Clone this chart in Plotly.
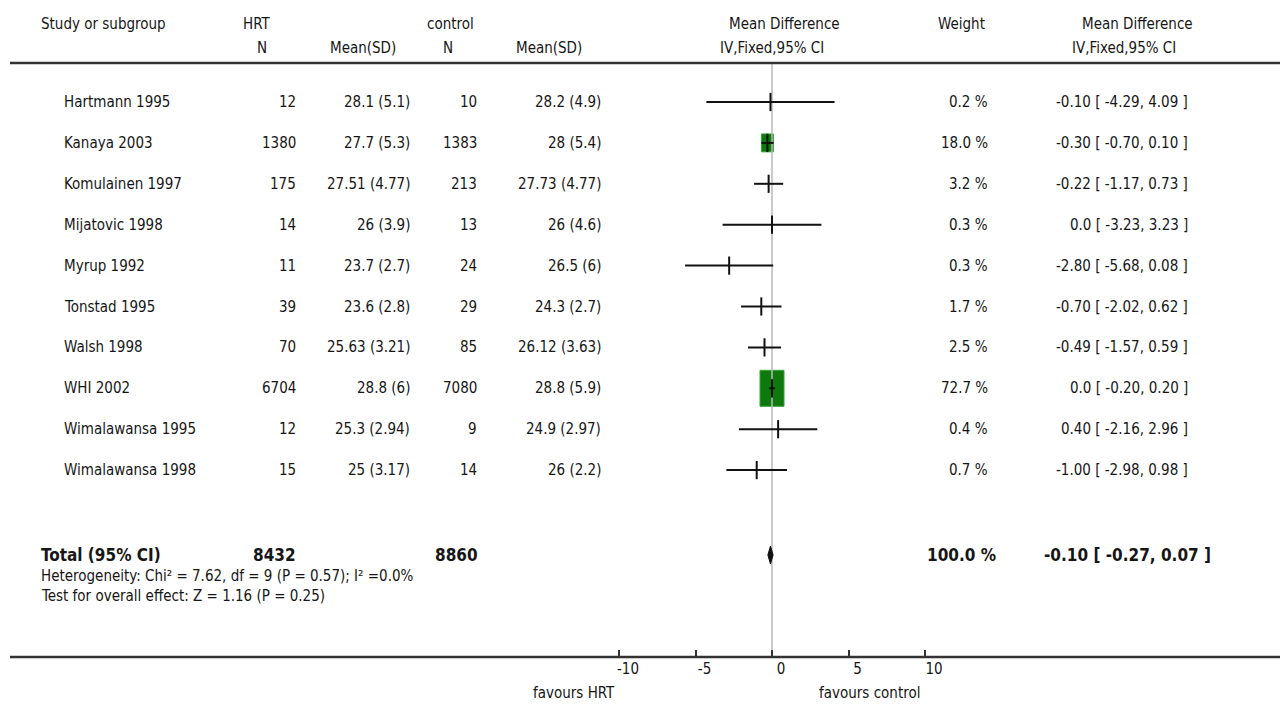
import math
import plotly.graph_objects as go

# ---------------- data ----------------
studies = ["Hartmann 1995", "Kanaya 2003", "Komulainen 1997", "Mijatovic 1998", "Myrup 1992",
           "Tonstad 1995", "Walsh 1998", "WHI 2002", "Wimalawansa 1995", "Wimalawansa 1998"]
hrt_n = [12, 1380, 175, 14, 11, 39, 70, 6704, 12, 15]
hrt_mean_sd = ["28.1 (5.1)", "27.7 (5.3)", "27.51 (4.77)", "26 (3.9)", "23.7 (2.7)",
               "23.6 (2.8)", "25.63 (3.21)", "28.8 (6)", "25.3 (2.94)", "25 (3.17)"]
ctl_n = [10, 1383, 213, 13, 24, 29, 85, 7080, 9, 14]
ctl_mean_sd = ["28.2 (4.9)", "28 (5.4)", "27.73 (4.77)", "26 (4.6)", "26.5 (6)",
               "24.3 (2.7)", "26.12 (3.63)", "28.8 (5.9)", "24.9 (2.97)", "26 (2.2)"]
weights = [0.2, 18.0, 3.2, 0.3, 0.3, 1.7, 2.5, 72.7, 0.4, 0.7]
md = [-0.10, -0.30, -0.22, 0.0, -2.80, -0.70, -0.49, 0.0, 0.40, -1.00]
ci_lo = [-4.29, -0.70, -1.17, -3.23, -5.68, -2.02, -1.57, -0.20, -2.16, -2.98]
ci_hi = [4.09, 0.10, 0.73, 3.23, 0.08, 0.62, 0.59, 0.20, 2.96, 0.98]

total_hrt_n = 8432
total_ctl_n = 8860
total_weight = 100.0
total_md = -0.10
total_lo = -0.27
total_hi = 0.07
heterogeneity = "Heterogeneity: Chi² = 7.62, df = 9 (P = 0.57); I² =0.0%"
overall_test = "Test for overall effect: Z = 1.16 (P = 0.25)"

tick_vals = [-10, -5, 0, 5, 10]
tick_text = ["-10", "-5", "0", "5", "10"]

# ---------------- layout constants ----------------
PAGE_W, PAGE_H = 1288, 705
OFF = 8                      # default body margin of the html page
W, H = PAGE_W - OFF, PAGE_H - OFF
ZERO_PX = 772.0
PX_PER_UNIT = 15.3
ROW0 = 102
ROW_STEP = 40.9
TOTAL_Y = 555
HEADER_LINE_Y = 63
AXIS_Y = 657
FONT = "DejaVu Sans Condensed, Liberation Sans Narrow, sans-serif"
TXT = "#161616"
MIN_SQUARE_PX = 7


def fmt_md(v):
    return "0.0" if v == 0 else f"{v:.2f}"


def ci_text(m, lo, hi):
    return f"{fmt_md(m)} [ {lo:.2f}, {hi:.2f} ]"


def px_to_paper(xpx):
    return (xpx - OFF) / W


row_y = [ROW0 + i * ROW_STEP for i in range(len(studies))]

fig = go.Figure()

# squares (side ~ sqrt(weight)); reference image is horizontally squeezed -> 1.5 aspect
max_w = max(weights)
for m, w, y in zip(md, weights, row_y):
    side_px = 24 * math.sqrt(w / max_w)
    if side_px < MIN_SQUARE_PX:
        continue
    half_x = side_px / 2 / PX_PER_UNIT
    half_y = side_px * 1.5 / 2
    fig.add_shape(type="rect", xref="x", yref="y", layer="below",
                  x0=m - half_x, x1=m + half_x, y0=y - half_y, y1=y + half_y,
                  fillcolor="#0e7a0e", line=dict(color="#3aa03a", width=1))

# zero line
fig.add_shape(type="line", xref="x", yref="y", x0=0, x1=0, y0=HEADER_LINE_Y, y1=AXIS_Y,
              line=dict(color="#b8b8b8", width=1.5), layer="below")

# CI lines
xs, ys = [], []
for lo, hi, y in zip(ci_lo, ci_hi, row_y):
    xs += [lo, hi, None]
    ys += [y, y, None]
fig.add_trace(go.Scatter(x=xs, y=ys, mode="lines", line=dict(color="#111", width=2),
                         hoverinfo="skip", showlegend=False))
# point estimates
fig.add_trace(go.Scatter(x=md, y=row_y, mode="markers",
                         marker=dict(symbol="line-ns", size=13,
                                     line=dict(color="#111", width=2)),
                         hoverinfo="skip", showlegend=False))

# diamond
dh = 9
fig.add_trace(go.Scatter(x=[total_lo, total_md, total_hi, total_md, total_lo],
                         y=[TOTAL_Y, TOTAL_Y - dh, TOTAL_Y, TOTAL_Y + dh, TOTAL_Y],
                         mode="lines", fill="toself", fillcolor="#111",
                         line=dict(color="#111", width=1),
                         hoverinfo="skip", showlegend=False))

# header line and axis line
for yy in (HEADER_LINE_Y, AXIS_Y):
    fig.add_shape(type="line", xref="paper", yref="y", x0=px_to_paper(10), x1=1, y0=yy, y1=yy,
                  line=dict(color="#333", width=2.5))

annotations = []


def txt(xpx, ypx, s, anchor="left", size=15, bold=False):
    annotations.append(dict(xref="paper", yref="y", x=px_to_paper(xpx), y=ypx,
                            text=(f"<b>{s}</b>" if bold else s),
                            xanchor=anchor, yanchor="middle", showarrow=False,
                            font=dict(family=FONT, size=size, color=TXT)))


# headers
H1, H2 = 24, 48
txt(39, H1, "Study or subgroup")
txt(272, H1, "HRT", "right")
txt(269, H2, "N", "right")
txt(328, H2, "Mean(SD)")
txt(476, H1, "control", "right")
txt(455, H2, "N", "right")
txt(514, H2, "Mean(SD)")
txt(784, H1, "Mean Difference", "center")
txt(772, H2, "IV,Fixed,95% CI", "center")
txt(961, H1, "Weight", "center")
txt(1137, H1, "Mean Difference", "center")
txt(1124, H2, "IV,Fixed,95% CI", "center")

# study rows
for i, y in enumerate(row_y):
    txt(62, y, studies[i])
    txt(298, y, str(hrt_n[i]), "right")
    txt(412, y, hrt_mean_sd[i], "right")
    txt(479, y, str(ctl_n[i]), "right")
    txt(603, y, ctl_mean_sd[i], "right")
    txt(990, y, f"{weights[i]:.1f} %", "right")
    txt(1190, y, ci_text(md[i], ci_lo[i], ci_hi[i]), "right")

# totals
txt(39, TOTAL_Y, "Total (95% CI)", size=17, bold=True)
txt(298, TOTAL_Y, str(total_hrt_n), "right", size=17, bold=True)
txt(480, TOTAL_Y, str(total_ctl_n), "right", size=17, bold=True)
txt(998, TOTAL_Y, f"{total_weight:.1f} %", "right", size=17, bold=True)
txt(1213, TOTAL_Y, ci_text(total_md, total_lo, total_hi), "right", size=17, bold=True)
txt(39, 576, heterogeneity, size=15)
txt(39, 596, overall_test, size=15)

# favours labels
txt(617, 693, "favours HRT", "right")
txt(817, 693, "favours control", "left")

fig.update_layout(
    width=W, height=H,
    margin=dict(l=0, r=0, t=0, b=0),
    paper_bgcolor="white", plot_bgcolor="white",
    showlegend=False,
    annotations=annotations,
    xaxis=dict(range=[(OFF - ZERO_PX) / PX_PER_UNIT, (PAGE_W - ZERO_PX) / PX_PER_UNIT],
               domain=[0, 1],
               tickvals=tick_vals, ticktext=tick_text, ticks="inside", ticklen=7,
               tickwidth=1.5, tickcolor="#333", showline=False, showgrid=False,
               zeroline=False, anchor="free", position=(PAGE_H - AXIS_Y) / H,
               ticklabelshift=9, ticklabelstandoff=1,
               tickfont=dict(family=FONT, size=15, color=TXT), fixedrange=True),
    yaxis=dict(range=[PAGE_H, OFF], domain=[0, 1], visible=False, fixedrange=True),
)

fig.write_html("out.html")
